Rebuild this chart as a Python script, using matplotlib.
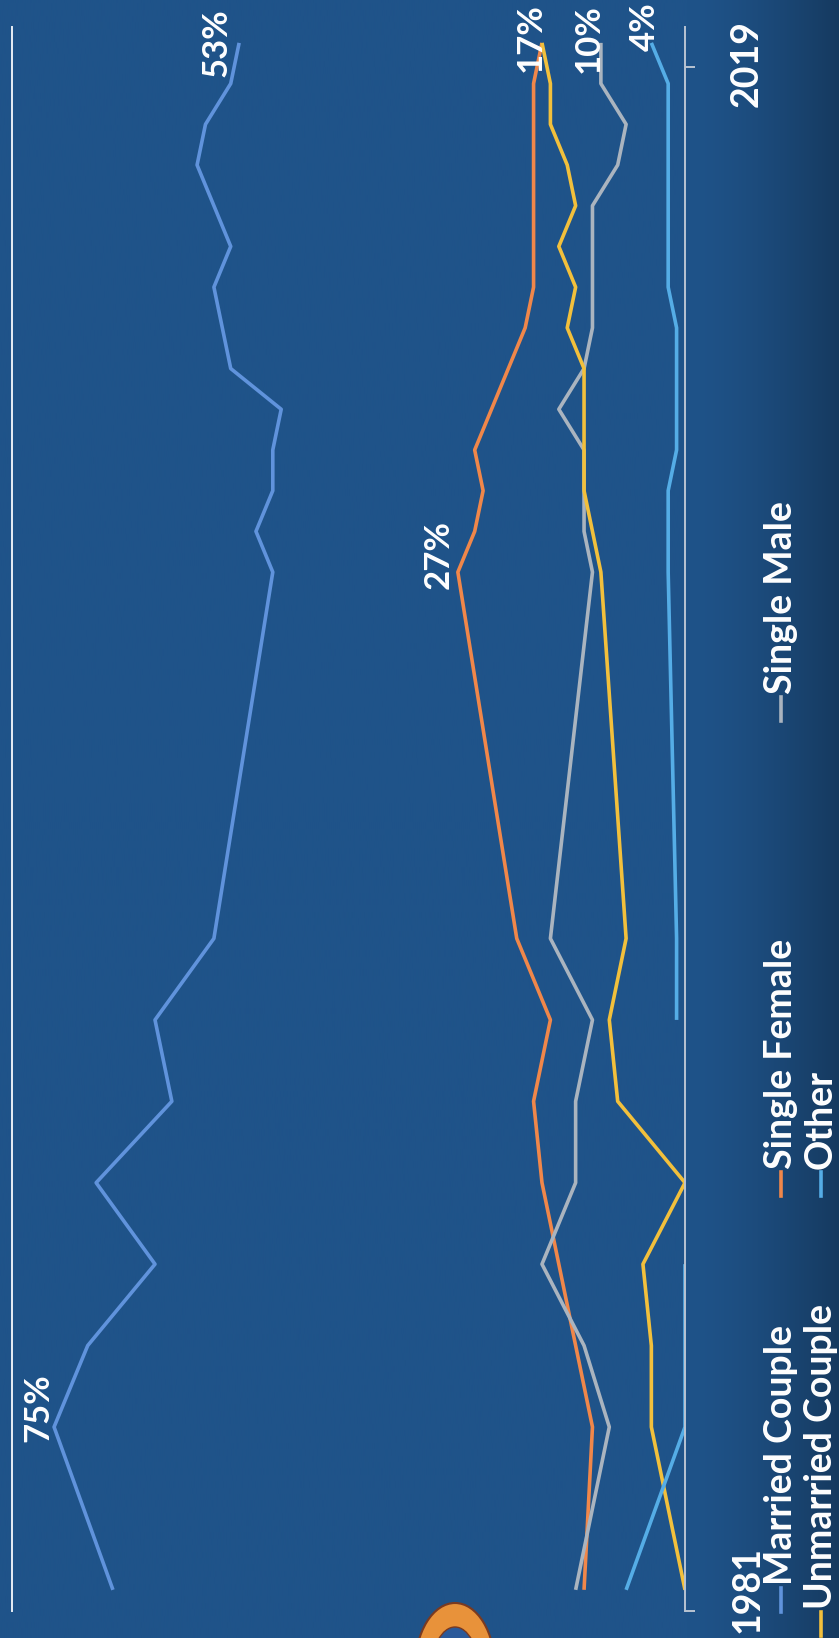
#
# Household composition of buyers 1981-2019, chart drawn on its side
#
import numpy as np
import matplotlib.pyplot as plt
from matplotlib.lines import Line2D
from matplotlib.patches import Ellipse
from matplotlib.colors import to_rgb
from matplotlib.transforms import blended_transform_factory

years = [1981, 1985, 1987, 1989, 1991, 1993, 1995, 1997,
         2006, 2007, 2008, 2009, 2010, 2011, 2012, 2013,
         2014, 2015, 2016, 2017, 2018, 2019]
married   = [68, 75, 71, 63, 70, 61, 63, 56, 49, 51, 49, 49, 48, 54, 55, 56, 54, 56, 58, 57, 54, 53]
single_f  = [12, 11, 13, 15, 17, 18, 16, 20, 27, 25, 24, 25, 23, 21, 19, 18, 18, 18, 18, 18, 18, 17]
single_m  = [13, 9, 12, 17, 13, 13, 11, 16, 11, 12, 12, 12, 15, 12, 11, 11, 11, 11, 8, 7, 10, 10]
unmarried = [0, 4, 4, 5, 0, 8, 9, 7, 10, 11, 12, 12, 12, 12, 14, 13, 15, 13, 14, 16, 16, 17]
other     = [7, 0, 0, 0, np.nan, np.nan, 1, 1, 2, 2, 2, 1, 1, 1, 1, 2, 2, 2, 2, 2, 2, 4]

names  = ['Married Couple', 'Single Female', 'Single Male', 'Unmarried Couple', 'Other']
series = [married, single_f, single_m, unmarried, other]
colors = ['#6093dc', '#f0874a', '#aab4bf', '#f2c03c', '#55ade6']

# (text, series index, year index, offset in points) for the value labels
labels = [('75%', 0, 1, (-11, 14)), ('53%', 0, -1, (-16, 0)),
          ('27%', 1, 8, (-14, 13)), ('17%', 1, -1, (-8, 4)),
          ('10%', 2, -1, (-9, 3)), ('4%', 4, -1, (-5, 12))]

BG = '#1f5389'
W, H = 839, 1638
fig = plt.figure(figsize=(W/100, H/100), dpi=100)
fig.patch.set_facecolor(BG)
plt.rcParams['font.family'] = ['Lato', 'DejaVu Sans']

# photo-like shading: a little darker towards the right edge
bg_ax = fig.add_axes([0, 0, 1, 1], zorder=-1)
xs = np.linspace(0, 1, 400)
shade = np.clip((xs - 0.82) / 0.18, 0, 1) ** 1.5 * 0.30
rgb = np.array(to_rgb(BG))
grad = (rgb[None, :] * (1 - shade[:, None]))[None, :, :]
bg_ax.imshow(grad, aspect='auto', extent=[0, 1, 0, 1])
bg_ax.set_axis_off()

ax = fig.add_axes([12/W, 1 - 1611/H, (685-12)/W, (1611-27)/H])
ax.set_facecolor('none')
for s, c in zip(series, colors):
    ax.plot(np.array(s, dtype=float), years, color=c, lw=2.6,
            solid_joinstyle='round', solid_capstyle='butt')

ax.set_xlim(80, 0)
ax.set_ylim(1980.48, 2019.39)
for k in ['top', 'bottom']:
    ax.spines[k].set_visible(False)
ax.spines['left'].set_color('#e8eef5')
ax.spines['left'].set_linewidth(1.4)
ax.spines['right'].set_color('#b9c4d2')
ax.spines['right'].set_linewidth(1.4)
ax.set_xticks([])
ax.yaxis.tick_right()
ax.set_yticks([1980.48, 2018.41])
ax.set_yticklabels(['', ''])
ax.tick_params(axis='y', length=7, width=1.4, color='#b9c4d2')

for txt, si, yi, off in labels:
    ax.annotate(txt, xy=(series[si][yi], years[yi]), xytext=off,
                textcoords='offset points', rotation=90, ha='center',
                va='center', color='white', fontsize=25, fontweight='bold')

tr = blended_transform_factory(ax.transAxes, ax.transData)
ax.text((747-12)/673, years[-1] - 0.5, str(years[-1]), transform=tr, rotation=90,
        ha='center', va='center', color='white', fontsize=27, fontweight='bold')
ax.text((748-12)/673, years[0], str(years[0]), transform=tr, rotation=90,
        ha='center', va='center', color='white', fontsize=27, fontweight='bold')

# legend, rotated like the rest of the chart
legend_pos = [(781, 1612), (781, 1196), (781, 721), (821, 1636), (821, 1196)]
for (lx, ly), name, c in zip(legend_pos, names, colors):
    fig.add_artist(Line2D([lx/W, lx/W], [1 - ly/H, 1 - (ly-24)/H], color=c, lw=2.6))
    fig.text(lx/W, 1 - (ly-27)/H, name, rotation=90, rotation_mode='anchor',
             ha='left', va='center', color='white', fontsize=27, fontweight='bold')

# corner of the logo that shows at the bottom edge
fig.add_artist(Ellipse((455/W, 1 - 1668/H), 80/W, 130/H, facecolor='#e8923a',
                       edgecolor='#7a3a20', lw=1.5))
fig.add_artist(Ellipse((455/W, 1 - 1672/H), 48/W, 90/H, facecolor='#2b5a9a',
                       edgecolor='#7a3a20', lw=1.0))

fig.savefig('out.png', dpi=100, facecolor=BG)
